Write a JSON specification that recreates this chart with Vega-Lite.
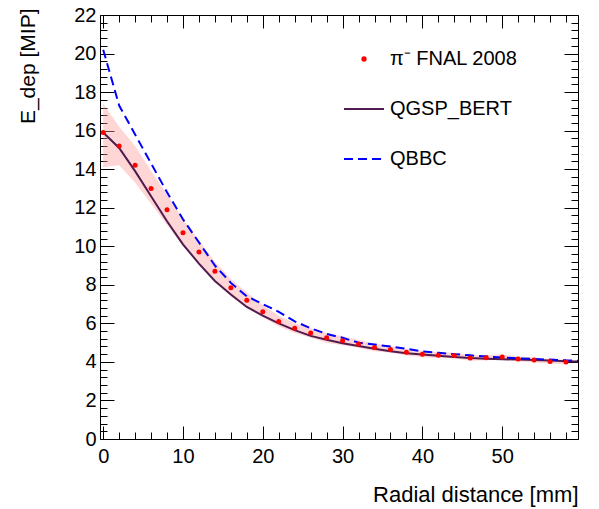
{
  "$schema": "https://vega.github.io/schema/vega-lite/v6.json",
  "width": 478,
  "height": 424,
  "autosize": {"type": "none"},
  "padding": {"left": 100, "top": 15, "right": 21, "bottom": 70},
  "config": {
    "font": "Liberation Sans",
    "view": {"stroke": null},
    "axis": {
      "grid": false,
      "domainColor": "black",
      "domainWidth": 1,
      "tickColor": "black",
      "tickWidth": 1,
      "labelFont": "Liberation Sans",
      "labelFontSize": 20,
      "labelColor": "black",
      "labelFlush": false,
      "labelOverlap": false,
      "titleFont": "Liberation Sans",
      "titleFontSize": 21,
      "titleFontWeight": "normal",
      "titleColor": "black"
    }
  },
  "datasets": {
    "fnal": [
      {"r": 0, "E": 15.9, "lo": 14.1, "hi": 17.4, "series": "π⁻ FNAL 2008"},
      {"r": 2, "E": 15.2, "lo": 14.2, "hi": 16.2, "series": "π⁻ FNAL 2008"},
      {"r": 4, "E": 14.2, "lo": 13.3, "hi": 15.2, "series": "π⁻ FNAL 2008"},
      {"r": 6, "E": 13.0, "lo": 12.2, "hi": 13.9, "series": "π⁻ FNAL 2008"},
      {"r": 8, "E": 11.9, "lo": 11.1, "hi": 12.7, "series": "π⁻ FNAL 2008"},
      {"r": 10, "E": 10.7, "lo": 10.0, "hi": 11.4, "series": "π⁻ FNAL 2008"},
      {"r": 12, "E": 9.7, "lo": 9.1, "hi": 10.3, "series": "π⁻ FNAL 2008"},
      {"r": 14, "E": 8.7, "lo": 8.2, "hi": 9.2, "series": "π⁻ FNAL 2008"},
      {"r": 16, "E": 7.85, "lo": 7.4, "hi": 8.3, "series": "π⁻ FNAL 2008"},
      {"r": 18, "E": 7.2, "lo": 6.8, "hi": 7.6, "series": "π⁻ FNAL 2008"},
      {"r": 20, "E": 6.6, "lo": 6.3, "hi": 6.95, "series": "π⁻ FNAL 2008"},
      {"r": 22, "E": 6.1, "lo": 5.85, "hi": 6.4, "series": "π⁻ FNAL 2008"},
      {"r": 24, "E": 5.75, "lo": 5.5, "hi": 6.0, "series": "π⁻ FNAL 2008"},
      {"r": 26, "E": 5.5, "lo": 5.25, "hi": 5.75, "series": "π⁻ FNAL 2008"},
      {"r": 28, "E": 5.25, "lo": 5.0, "hi": 5.5, "series": "π⁻ FNAL 2008"},
      {"r": 30, "E": 5.1, "lo": 4.87, "hi": 5.33, "series": "π⁻ FNAL 2008"},
      {"r": 32, "E": 4.93, "lo": 4.72, "hi": 5.14, "series": "π⁻ FNAL 2008"},
      {"r": 34, "E": 4.75, "lo": 4.55, "hi": 4.95, "series": "π⁻ FNAL 2008"},
      {"r": 36, "E": 4.65, "lo": 4.47, "hi": 4.83, "series": "π⁻ FNAL 2008"},
      {"r": 38, "E": 4.5, "lo": 4.33, "hi": 4.67, "series": "π⁻ FNAL 2008"},
      {"r": 40, "E": 4.4, "lo": 4.24, "hi": 4.56, "series": "π⁻ FNAL 2008"},
      {"r": 42, "E": 4.35, "lo": 4.2, "hi": 4.5, "series": "π⁻ FNAL 2008"},
      {"r": 44, "E": 4.33, "lo": 4.18, "hi": 4.48, "series": "π⁻ FNAL 2008"},
      {"r": 46, "E": 4.2, "lo": 4.06, "hi": 4.34, "series": "π⁻ FNAL 2008"},
      {"r": 48, "E": 4.22, "lo": 4.08, "hi": 4.36, "series": "π⁻ FNAL 2008"},
      {"r": 50, "E": 4.25, "lo": 4.11, "hi": 4.39, "series": "π⁻ FNAL 2008"},
      {"r": 52, "E": 4.15, "lo": 4.02, "hi": 4.28, "series": "π⁻ FNAL 2008"},
      {"r": 54, "E": 4.1, "lo": 3.97, "hi": 4.23, "series": "π⁻ FNAL 2008"},
      {"r": 56, "E": 4.02, "lo": 3.9, "hi": 4.14, "series": "π⁻ FNAL 2008"},
      {"r": 58, "E": 4.0, "lo": 3.88, "hi": 4.12, "series": "π⁻ FNAL 2008"}
    ],
    "qgsp": [
      {"r": 0, "E": 15.9, "series": "QGSP_BERT"},
      {"r": 2, "E": 15.1, "series": "QGSP_BERT"},
      {"r": 4, "E": 13.9, "series": "QGSP_BERT"},
      {"r": 6, "E": 12.6, "series": "QGSP_BERT"},
      {"r": 8, "E": 11.3, "series": "QGSP_BERT"},
      {"r": 10, "E": 10.1, "series": "QGSP_BERT"},
      {"r": 12, "E": 9.1, "series": "QGSP_BERT"},
      {"r": 14, "E": 8.2, "series": "QGSP_BERT"},
      {"r": 16, "E": 7.5, "series": "QGSP_BERT"},
      {"r": 18, "E": 6.85, "series": "QGSP_BERT"},
      {"r": 20, "E": 6.4, "series": "QGSP_BERT"},
      {"r": 22, "E": 6.0, "series": "QGSP_BERT"},
      {"r": 24, "E": 5.65, "series": "QGSP_BERT"},
      {"r": 26, "E": 5.35, "series": "QGSP_BERT"},
      {"r": 28, "E": 5.15, "series": "QGSP_BERT"},
      {"r": 30, "E": 4.97, "series": "QGSP_BERT"},
      {"r": 32, "E": 4.82, "series": "QGSP_BERT"},
      {"r": 34, "E": 4.68, "series": "QGSP_BERT"},
      {"r": 36, "E": 4.55, "series": "QGSP_BERT"},
      {"r": 38, "E": 4.45, "series": "QGSP_BERT"},
      {"r": 40, "E": 4.38, "series": "QGSP_BERT"},
      {"r": 42, "E": 4.32, "series": "QGSP_BERT"},
      {"r": 44, "E": 4.26, "series": "QGSP_BERT"},
      {"r": 46, "E": 4.2, "series": "QGSP_BERT"},
      {"r": 48, "E": 4.17, "series": "QGSP_BERT"},
      {"r": 50, "E": 4.14, "series": "QGSP_BERT"},
      {"r": 52, "E": 4.12, "series": "QGSP_BERT"},
      {"r": 54, "E": 4.1, "series": "QGSP_BERT"},
      {"r": 56, "E": 4.07, "series": "QGSP_BERT"},
      {"r": 58, "E": 4.04, "series": "QGSP_BERT"},
      {"r": 60, "E": 4.02, "series": "QGSP_BERT"}
    ],
    "qbbc": [
      {"r": 0, "E": 20.2, "series": "QBBC"},
      {"r": 2, "E": 17.3, "series": "QBBC"},
      {"r": 4, "E": 15.8, "series": "QBBC"},
      {"r": 6, "E": 14.3, "series": "QBBC"},
      {"r": 8, "E": 12.8, "series": "QBBC"},
      {"r": 10, "E": 11.4, "series": "QBBC"},
      {"r": 12, "E": 10.2, "series": "QBBC"},
      {"r": 14, "E": 9.0, "series": "QBBC"},
      {"r": 16, "E": 8.1, "series": "QBBC"},
      {"r": 18, "E": 7.4, "series": "QBBC"},
      {"r": 20, "E": 7.0, "series": "QBBC"},
      {"r": 22, "E": 6.6, "series": "QBBC"},
      {"r": 24, "E": 6.1, "series": "QBBC"},
      {"r": 26, "E": 5.75, "series": "QBBC"},
      {"r": 28, "E": 5.45, "series": "QBBC"},
      {"r": 30, "E": 5.25, "series": "QBBC"},
      {"r": 32, "E": 5.0, "series": "QBBC"},
      {"r": 34, "E": 4.9, "series": "QBBC"},
      {"r": 36, "E": 4.8, "series": "QBBC"},
      {"r": 38, "E": 4.68, "series": "QBBC"},
      {"r": 40, "E": 4.55, "series": "QBBC"},
      {"r": 42, "E": 4.47, "series": "QBBC"},
      {"r": 44, "E": 4.4, "series": "QBBC"},
      {"r": 46, "E": 4.34, "series": "QBBC"},
      {"r": 48, "E": 4.28, "series": "QBBC"},
      {"r": 50, "E": 4.23, "series": "QBBC"},
      {"r": 52, "E": 4.18, "series": "QBBC"},
      {"r": 54, "E": 4.15, "series": "QBBC"},
      {"r": 56, "E": 4.12, "series": "QBBC"},
      {"r": 58, "E": 4.08, "series": "QBBC"},
      {"r": 60, "E": 4.06, "series": "QBBC"}
    ]
  },
  "layer": [
    {
      "data": {"name": "fnal"},
      "mark": {"type": "area", "color": "#ff9999", "opacity": 0.4, "clip": true},
      "encoding": {
        "x": {
          "field": "r", "type": "quantitative",
          "scale": {"domain": [-0.4, 59.5], "nice": false, "zero": false},
          "axis": {
            "orient": "bottom",
            "values": [0,2,4,6,8,10,12,14,16,18,20,22,24,26,28,30,32,34,36,38,40,42,44,46,48,50,52,54,56,58],
            "labelExpr": "datum.value % 10 === 0 ? '' + datum.value : ''",
            "tickSize": {"condition": {"test": "datum.value % 10 === 0", "value": -13}, "value": -7},
            "labelPadding": 20,
            "title": "Radial distance [mm]",
            "titleFontSize": 22,
            "titleAnchor": "end",
            "titleX": 478,
            "titleY": 62,
            "titleAlign": "right",
            "titleBaseline": "alphabetic"
          }
        },
        "y": {
          "field": "lo", "type": "quantitative",
          "scale": {"domain": [0, 22], "nice": false, "zero": false},
          "axis": {
            "orient": "left",
            "values": [0,0.4,0.8,1.2,1.6,2,2.4,2.8,3.2,3.6,4,4.4,4.8,5.2,5.6,6,6.4,6.8,7.2,7.6,8,8.4,8.8,9.2,9.6,10,10.4,10.8,11.2,11.6,12,12.4,12.8,13.2,13.6,14,14.4,14.8,15.2,15.6,16,16.4,16.8,17.2,17.6,18,18.4,18.8,19.2,19.6,20,20.4,20.8,21.2,21.6,22],
            "labelExpr": "datum.value % 2 === 0 ? '' + datum.value : ''",
            "tickSize": {"condition": {"test": "datum.value % 2 === 0", "value": -14}, "value": -7},
            "labelPadding": 18,
            "title": "E_dep [MIP]",
            "titleAngle": -90,
            "titleX": -72,
            "titleY": -7,
            "titleAlign": "right",
            "titleBaseline": "middle"
          }
        },
        "y2": {"field": "hi"}
      }
    },
    {
      "data": {"name": "qgsp"},
      "mark": {"type": "line", "strokeWidth": 2, "clip": true},
      "encoding": {
        "x": {"field": "r", "type": "quantitative", "axis": null},
        "y": {"field": "E", "type": "quantitative", "axis": null},
        "color": {
          "field": "series", "type": "nominal",
          "scale": {"domain": ["π⁻ FNAL 2008", "QGSP_BERT", "QBBC"], "range": ["#ff0000", "#501b4f", "#0000ff"]},
          "legend": {
            "title": null,
            "orient": "none",
            "legendX": 254,
            "legendY": 34,
            "symbolSize": 1600,
            "labelFont": "Liberation Sans",
            "labelFontSize": 20,
            "labelColor": "black",
            "labelOffset": 16,
            "labelLimit": 300,
            "rowPadding": 30,
            "encode": {
              "symbols": {
                "update": {
                  "shape": {"signal": "datum.value === 'QBBC' || datum.value === 'QGSP_BERT' ? 'stroke' : 'circle'"},
                  "size": {"signal": "datum.value === 'QBBC' || datum.value === 'QGSP_BERT' ? 1600 : 28"},
                  "strokeDash": {"signal": "datum.value === 'QBBC' ? [9,5] : [1,0]"},
                  "strokeWidth": {"signal": "datum.value === 'QBBC' || datum.value === 'QGSP_BERT' ? 2 : 0"},
                  "fill": {"signal": "datum.value === 'QBBC' || datum.value === 'QGSP_BERT' ? 'transparent' : '#ff0000'"},
                  "stroke": {"signal": "datum.value === 'QBBC' ? '#0000ff' : datum.value === 'QGSP_BERT' ? '#501b4f' : '#ff0000'"},
                  "opacity": {"value": 1}
                }
              }
            }
          }
        }
      }
    },
    {
      "data": {"name": "qbbc"},
      "mark": {"type": "line", "strokeWidth": 2, "strokeDash": [9, 5], "clip": true},
      "encoding": {
        "x": {"field": "r", "type": "quantitative", "axis": null},
        "y": {"field": "E", "type": "quantitative", "axis": null},
        "color": {"field": "series", "type": "nominal"}
      }
    },
    {
      "data": {"name": "fnal"},
      "mark": {"type": "point", "filled": true, "size": 25, "opacity": 1, "clip": true},
      "encoding": {
        "x": {
          "field": "r", "type": "quantitative",
          "axis": {
            "orient": "top",
            "values": [0,2,4,6,8,10,12,14,16,18,20,22,24,26,28,30,32,34,36,38,40,42,44,46,48,50,52,54,56,58],
            "labels": false,
            "title": null,
            "tickSize": {"condition": {"test": "datum.value % 10 === 0", "value": -13}, "value": -7}
          }
        },
        "y": {
          "field": "E", "type": "quantitative",
          "axis": {
            "orient": "right",
            "values": [0,0.4,0.8,1.2,1.6,2,2.4,2.8,3.2,3.6,4,4.4,4.8,5.2,5.6,6,6.4,6.8,7.2,7.6,8,8.4,8.8,9.2,9.6,10,10.4,10.8,11.2,11.6,12,12.4,12.8,13.2,13.6,14,14.4,14.8,15.2,15.6,16,16.4,16.8,17.2,17.6,18,18.4,18.8,19.2,19.6,20,20.4,20.8,21.2,21.6,22],
            "labels": false,
            "title": null,
            "tickSize": {"condition": {"test": "datum.value % 2 === 0", "value": -14}, "value": -7}
          }
        },
        "color": {"field": "series", "type": "nominal"}
      }
    }
  ],
  "resolve": {"axis": {"x": "independent", "y": "independent"}}
}
